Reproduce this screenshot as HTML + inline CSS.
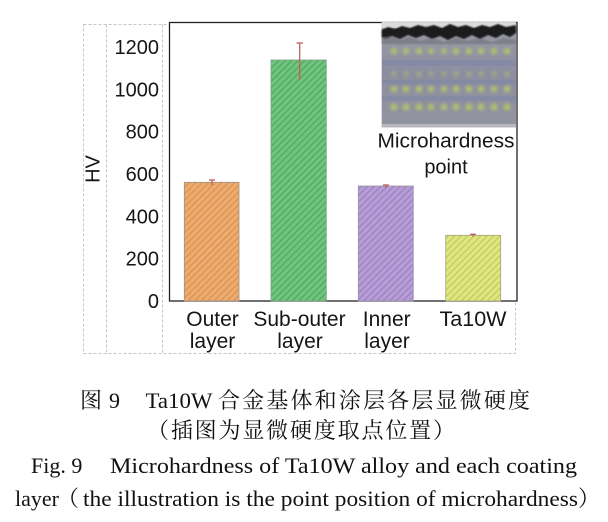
<!DOCTYPE html>
<html>
<head>
<meta charset="utf-8">
<style>
html,body{margin:0;padding:0;background:#fff;}
svg{display:block;}
.t{font-family:"Liberation Sans",Arial,sans-serif;fill:#151515;}
.c{font-family:"Liberation Serif","Noto Serif CJK SC",serif;fill:#111;}
</style>
</head>
<body>
<svg width="608" height="522" viewBox="0 0 608 522" xmlns="http://www.w3.org/2000/svg">
<defs>
<pattern id="hO" width="4.6" height="4.6" patternUnits="userSpaceOnUse" patternTransform="rotate(45)">
<rect width="4.6" height="4.6" fill="#efab6b"/><rect width="1.4" height="4.6" fill="#d6955f"/></pattern>
<pattern id="hG" width="4.6" height="4.6" patternUnits="userSpaceOnUse" patternTransform="rotate(45)">
<rect width="4.6" height="4.6" fill="#6fc57c"/><rect width="1.4" height="4.6" fill="#56a866"/></pattern>
<pattern id="hP" width="4.6" height="4.6" patternUnits="userSpaceOnUse" patternTransform="rotate(45)">
<rect width="4.6" height="4.6" fill="#b79cd8"/><rect width="1.4" height="4.6" fill="#9d85c0"/></pattern>
<pattern id="hY" width="4.6" height="4.6" patternUnits="userSpaceOnUse" patternTransform="rotate(45)">
<rect width="4.6" height="4.6" fill="#e0e77e"/><rect width="1.4" height="4.6" fill="#c6ca66"/></pattern>
<filter id="bl" x="-50%" y="-50%" width="200%" height="200%"><feGaussianBlur stdDeviation="1.5"/></filter>
<filter id="bl2" x="-20%" y="-50%" width="140%" height="200%"><feGaussianBlur stdDeviation="0.9"/></filter>
<linearGradient id="ig" x1="0" y1="0" x2="0" y2="1">
<stop offset="0" stop-color="#9a9ba6"/><stop offset="0.5" stop-color="#8c8ea0"/><stop offset="1" stop-color="#9394a0"/></linearGradient>
</defs>

<g fill="none" stroke="#c6c6c6" stroke-width="1" stroke-dasharray="3,2">
<rect x="83.5" y="24.5" width="432" height="329"/>
<line x1="106.5" y1="24.5" x2="106.5" y2="353.5"/>
<line x1="162.5" y1="24.5" x2="162.5" y2="353.5"/>
</g>

<rect x="169.5" y="22.5" width="347.5" height="278.5" fill="#fff" stroke="#222" stroke-width="1.3"/>

<rect x="184.3" y="182.3" width="54.7" height="118.7" fill="url(#hO)" stroke="#a09080" stroke-width="0.8"/>
<rect x="271" y="60" width="55.3" height="241" fill="url(#hG)" stroke="#80a084" stroke-width="0.8"/>
<rect x="358.3" y="186" width="55" height="115" fill="url(#hP)" stroke="#9c92a8" stroke-width="0.8"/>
<rect x="445.7" y="235.3" width="55" height="65.7" fill="url(#hY)" stroke="#a2a284" stroke-width="0.8"/>

<g stroke="#c0605a" stroke-width="1.3" fill="none">
<line x1="299.7" y1="43" x2="299.7" y2="80"/>
<line x1="296.5" y1="43" x2="303" y2="43"/>
<line x1="212" y1="179.5" x2="212" y2="185"/>
<line x1="209" y1="180" x2="215" y2="180"/>
<line x1="386" y1="184.5" x2="386" y2="188"/>
<line x1="383" y1="185" x2="389" y2="185"/>
<line x1="473" y1="233.8" x2="473" y2="236.5"/>
<line x1="470" y1="234.3" x2="476" y2="234.3"/>
</g>

<g>
<rect x="381.7" y="22" width="134.3" height="105.5" fill="url(#ig)"/>
<rect x="381.7" y="22" width="134.3" height="6" fill="#dcdcde"/>
<path d="M381.7 30 L388 27 L395 29 L402 26 L410 28 L418 25 L426 27 L434 25 L442 28 L450 24 L458 27 L466 25 L474 28 L482 25 L490 27 L498 24 L506 27 L516 25 L516 33 L510 37 L503 34 L496 38 L488 35 L480 39 L472 35 L464 39 L456 36 L448 40 L440 36 L432 39 L424 35 L416 38 L408 35 L400 39 L392 36 L386 39 L381.7 37 Z" fill="#1c1c1e" filter="url(#bl2)"/>
<path d="M381.7 37 L392 36 L400 40 L410 37 L420 41 L432 38 L444 42 L456 38 L468 41 L480 38 L492 42 L504 38 L516 40 L516 44 L381.7 44 Z" fill="#6e6f78" opacity="0.6" filter="url(#bl2)"/>
<g fill="#7e82a8" opacity="0.45">
<rect x="382" y="60" width="134" height="6"/>
<rect x="382" y="80" width="134" height="4"/>
<rect x="382" y="96" width="134" height="5"/>
</g>
<g fill="#b8c866" filter="url(#bl)" opacity="0.85">
<circle cx="394" cy="51" r="3.3"/><circle cx="406" cy="51" r="3.3"/><circle cx="419" cy="51" r="3.3"/><circle cx="431" cy="51" r="3"/><circle cx="444" cy="51" r="3"/><circle cx="456" cy="51" r="3.3"/><circle cx="469" cy="51" r="3.3"/><circle cx="481" cy="51" r="3.3"/><circle cx="494" cy="51" r="3.3"/><circle cx="507" cy="51" r="3.3"/>
<circle cx="394" cy="74" r="2.6" opacity="0.6"/><circle cx="406" cy="74" r="2.6" opacity="0.6"/><circle cx="419" cy="74" r="2.6" opacity="0.6"/><circle cx="431" cy="74" r="2.4" opacity="0.6"/><circle cx="444" cy="74" r="2.4" opacity="0.6"/><circle cx="456" cy="74" r="2.6" opacity="0.6"/><circle cx="469" cy="74" r="2.6" opacity="0.6"/><circle cx="481" cy="74" r="2.6" opacity="0.6"/><circle cx="494" cy="74" r="2.6" opacity="0.6"/><circle cx="507" cy="74" r="2.6" opacity="0.6"/>
<circle cx="394" cy="89" r="3.4"/><circle cx="406" cy="89" r="3.4"/><circle cx="419" cy="89" r="3.4"/><circle cx="431" cy="89" r="3.2"/><circle cx="444" cy="89" r="3.2"/><circle cx="456" cy="89" r="3.4"/><circle cx="469" cy="89" r="3.4"/><circle cx="481" cy="89" r="3.4"/><circle cx="494" cy="89" r="3.4"/><circle cx="507" cy="89" r="3.4"/>
<circle cx="394" cy="107" r="3.6"/><circle cx="406" cy="107" r="3.6"/><circle cx="419" cy="107" r="3.6"/><circle cx="431" cy="107" r="3.3"/><circle cx="444" cy="107" r="3.3"/><circle cx="456" cy="107" r="3.6"/><circle cx="469" cy="107" r="3.6"/><circle cx="481" cy="107" r="3.6"/><circle cx="494" cy="107" r="3.6"/><circle cx="507" cy="107" r="3.6"/>
</g>
<rect x="381.7" y="124" width="134.3" height="3.5" fill="#b8b8bc"/>
<line x1="382" y1="22.5" x2="516" y2="22.5" stroke="#cfcfcf" stroke-dasharray="3,2"/>
</g>

<text class="t" x="446" y="147.5" font-size="20" text-anchor="middle" textLength="137" lengthAdjust="spacingAndGlyphs">Microhardness</text>
<text class="t" x="446" y="173.5" font-size="20" text-anchor="middle">point</text>

<g class="t" font-size="20" text-anchor="end">
<text x="159" y="308">0</text>
<text x="159" y="265.7">200</text>
<text x="159" y="223.3">400</text>
<text x="159" y="181">600</text>
<text x="159" y="138.7">800</text>
<text x="159" y="96.3">1000</text>
<text x="159" y="54">1200</text>
</g>

<text class="t" font-size="20" text-anchor="middle" transform="translate(99.5,169) rotate(-90)">HV</text>

<g class="t" font-size="21" text-anchor="middle">
<text x="212.5" y="326">Outer</text>
<text x="212.5" y="348">layer</text>
<text x="299.5" y="326">Sub-outer</text>
<text x="300" y="348">layer</text>
<text x="386.7" y="326">Inner</text>
<text x="387" y="348">layer</text>
<text x="473" y="326" textLength="67" lengthAdjust="spacingAndGlyphs">Ta10W</text>
</g>

<g class="c" font-size="22">
<text x="80" y="408">图</text>
<text x="109" y="408">9</text>
<text x="145.5" y="408" textLength="67" lengthAdjust="spacingAndGlyphs">Ta10W</text>
<text x="218" y="408" textLength="312" lengthAdjust="spacing">合金基体和涂层各层显微硬度</text>
<text x="147" y="438" textLength="308" lengthAdjust="spacing">（插图为显微硬度取点位置）</text>
<text x="31" y="473">Fig. 9</text>
<text x="110" y="473" textLength="467" lengthAdjust="spacingAndGlyphs">Microhardness of Ta10W alloy and each coating</text>
<text x="15" y="506">layer</text>
<text x="57" y="506">（</text>
<text x="83" y="506" textLength="495" lengthAdjust="spacingAndGlyphs">the illustration is the point position of microhardness</text>
<text x="578" y="506">）</text>
</g>
</svg>
</body>
</html>
